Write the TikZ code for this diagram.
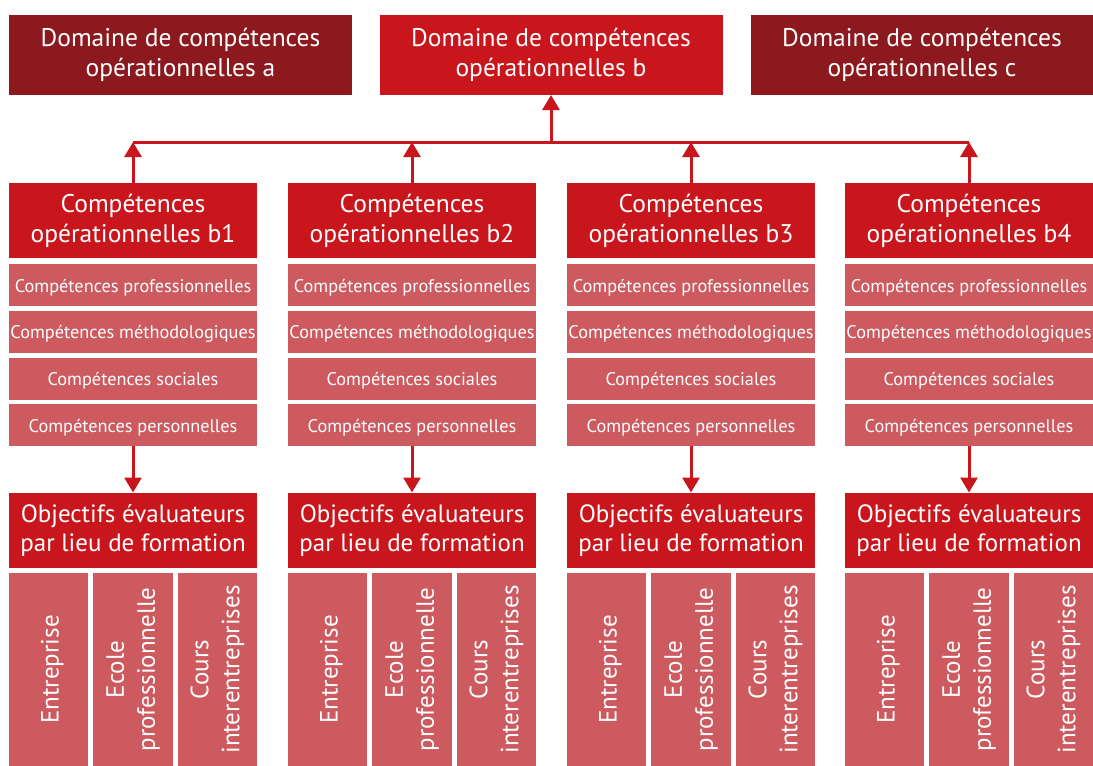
\documentclass[tikz,border=0pt]{standalone}
\usepackage{fontspec}
\setmainfont{PT Sans}
\usetikzlibrary{arrows.meta}
\definecolor{darkred}{HTML}{8B191E}
\definecolor{brightred}{HTML}{C9161D}
\definecolor{lightred}{HTML}{CC5A5F}
\begin{document}
\begin{tikzpicture}[x=1pt,y=-1pt,
  box/.style={inner sep=0pt, outer sep=0pt, text=white, align=center, execute at begin node={\rule{0pt}{1em}}},
  bigbox/.style={box, execute at begin node={\rule{0pt}{1.2em}}},
  dom/.style={bigbox, fill=darkred, minimum width=343pt, minimum height=80pt, font=\fontsize{25.5}{30}\selectfont},
  domb/.style={dom, fill=brightred},
  head/.style={bigbox, fill=brightred, minimum width=248pt, minimum height=75pt, font=\fontsize{25.5}{30}\selectfont},
  obj/.style={head, font=\fontsize{25}{29}\selectfont},
  sub/.style={box, fill=lightred, minimum width=248pt, minimum height=42pt, font=\fontsize{18.3}{20}\selectfont},
  place/.style={box, fill=lightred, rotate=90, minimum width=193pt, minimum height=79.3pt, font=\fontsize{25}{31}\selectfont},
  arr/.style={draw=brightred, line width=3pt, -{Triangle[width=17pt,length=15pt]}},
  bar/.style={draw=brightred, line width=3pt}
]
\useasboundingbox (0,0) rectangle (1093,766);
\node[dom]  (da) at (180.5,55) {Domaine de compétences\\opérationnelles a};
\node[domb] (db) at (551,55)   {Domaine de compétences\\opérationnelles b};
\node[dom]  (dc) at (922,55)   {Domaine de compétences\\opérationnelles c};
\coordinate (bus) at (0,142);
\foreach \i/\L in {1/9,2/288,3/567,4/845}{
  \node[head] (h\i) at (\L+124,220.5) {Compétences\\opérationnelles b\i};
  \node[sub] (s\i-1) at (\L+124,285)    {Compétences professionnelles};
  \node[sub] (s\i-2) at (\L+124,331.75) {Compétences méthodologiques};
  \node[sub] (s\i-3) at (\L+124,378.5)  {Compétences sociales};
  \node[sub] (s\i-4) at (\L+124,425.25) {Compétences personnelles};
  \node[obj] (o\i) at (\L+124,530) {Objectifs évaluateurs\\par lieu de formation};
  \node[place] (p\i-1) at (\L+39.65,669.5) {Entreprise};
  \node[place] (p\i-2) at (\L+124,669.5)   {Ecole\\professionnelle};
  \node[place] (p\i-3) at (\L+208.35,669.5) {Cours\\interentreprises};
  \draw[arr] (h\i.north) -- (h\i.north |- bus);
  \draw[arr] (s\i-4.south) -- (o\i.north);
}
\draw[bar] (h1.north |- bus) -- (h4.north |- bus);
\draw[arr] (db.south |- bus) -- (db.south);
\end{tikzpicture}
\end{document}
